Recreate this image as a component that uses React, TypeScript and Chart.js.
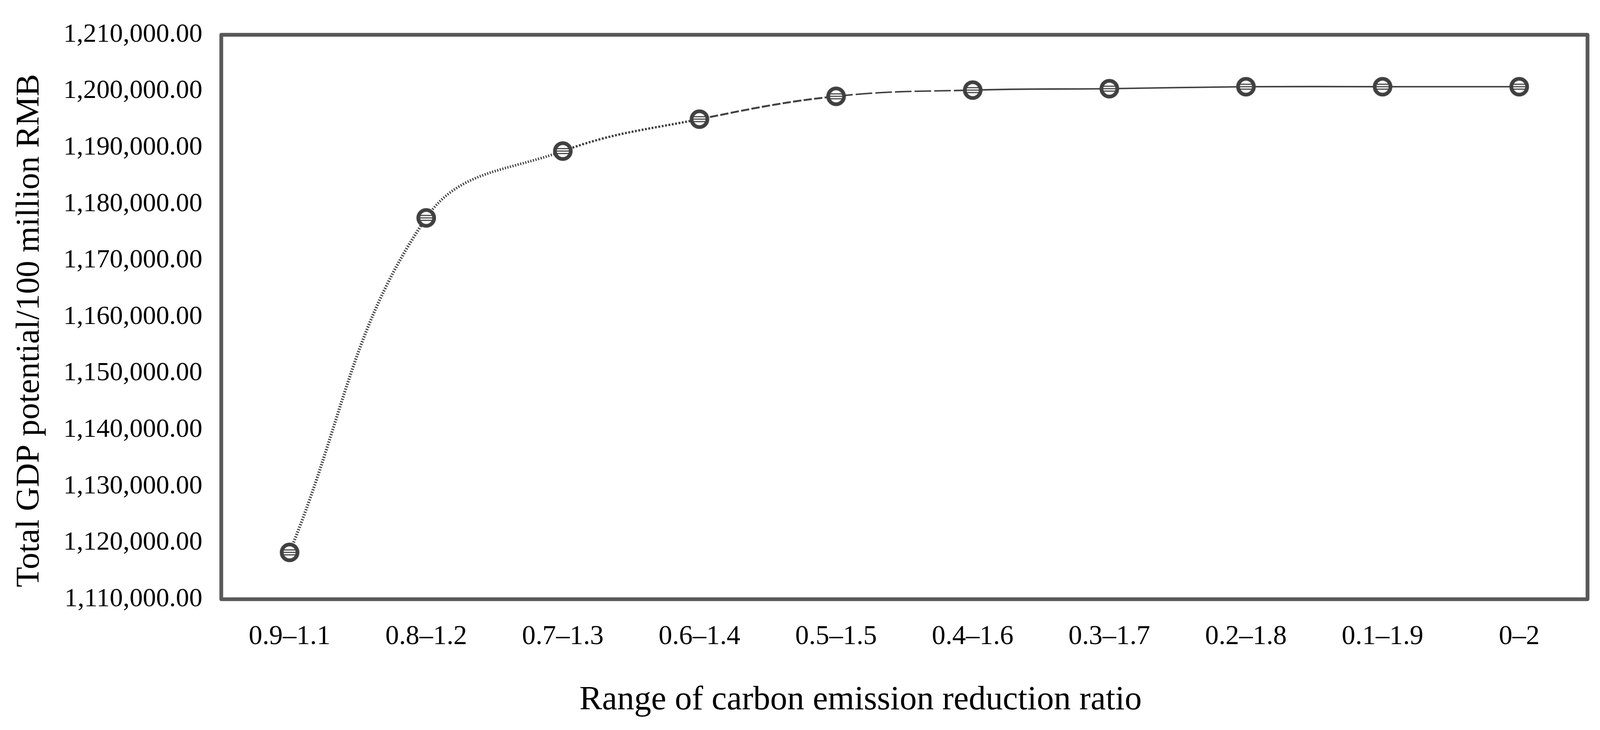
import React, { useEffect, useRef } from "react";
import { Chart, registerables } from "chart.js";

Chart.register(...registerables);

// ---- data ----
const categories = [
  "0.9–1.1",
  "0.8–1.2",
  "0.7–1.3",
  "0.6–1.4",
  "0.5–1.5",
  "0.4–1.6",
  "0.3–1.7",
  "0.2–1.8",
  "0.1–1.9",
  "0–2",
];
const gdpPotential = [
  1118300, 1177560, 1189400, 1195050, 1199100, 1200200, 1200450, 1200800, 1200800, 1200800,
];
const yMin = 1110000;
const yMax = 1210000;
const yStep = 10000;
const xTitle = "Range of carbon emission reduction ratio";
const yTitle = "Total GDP potential/100 million RMB";

// ---- styles ----
const LINE_COLOR = "#404040";
const BOX_COLOR = "#595959";
const FONT = "'Liberation Serif', 'Times New Roman', serif";
const segmentDash: number[][] = [[3, 4], [3, 4], [5, 4], [22, 6], [44, 8], [], [], [], []];
const segmentWidth: number[] = [8, 7, 6, 5, 4, 4, 4, 4, 4];

function makeMarker(s: number): HTMLCanvasElement {
  const size = Math.round(58 * s);
  const c = document.createElement("canvas");
  c.width = size;
  c.height = size;
  const g = c.getContext("2d")!;
  g.scale(size / 58, size / 58);
  const cx = 29, cy = 29;
  g.fillStyle = "#ffffff";
  g.beginPath();
  g.arc(cx, cy, 21, 0, Math.PI * 2);
  g.fill();
  g.save();
  g.beginPath();
  g.arc(cx, cy, 17, 0, Math.PI * 2);
  g.clip();
  g.fillStyle = LINE_COLOR;
  for (const dy of [-8, -1.5, 5]) {
    g.fillRect(cx - 20, cy + dy, 40, 3);
  }
  g.restore();
  g.strokeStyle = LINE_COLOR;
  g.lineWidth = 10;
  g.beginPath();
  g.arc(cx, cy, 21, 0, Math.PI * 2);
  g.stroke();
  return c;
}

export default function App() {
  const canvasRef = useRef<HTMLCanvasElement | null>(null);
  const W = typeof window !== "undefined" && window.innerWidth ? window.innerWidth : 4230;
  const H = typeof window !== "undefined" && window.innerHeight ? window.innerHeight : 1870;

  useEffect(() => {
    if (!canvasRef.current) return;
    const sx = W / 4230;
    const sy = H / 1870;
    const s = Math.min(sx, sy);
    const marker = makeMarker(s);

    const boxPlugin = {
      id: "boxPlugin",
      beforeDatasetsDraw(chart: any) {
        const { ctx, chartArea } = chart;
        ctx.save();
        ctx.strokeStyle = BOX_COLOR;
        ctx.lineWidth = 10 * s;
        ctx.lineJoin = "round";
        ctx.strokeRect(chartArea.left, chartArea.top, chartArea.right - chartArea.left, chartArea.bottom - chartArea.top);
        ctx.restore();
      },
    };

    const titlePlugin = {
      id: "titlePlugin",
      afterDraw(chart: any) {
        const { ctx } = chart;
        ctx.save();
        ctx.fillStyle = "#000000";
        ctx.font = `${90 * s}px ${FONT}`;
        ctx.textAlign = "center";
        ctx.textBaseline = "alphabetic";
        ctx.fillText(xTitle, 2275 * sx, 1817 * sy);
        ctx.translate(102 * sx, 847 * sy);
        ctx.rotate(-Math.PI / 2);
        ctx.font = `${88 * s}px ${FONT}`;
        ctx.fillText(yTitle, 0, 0);
        ctx.restore();
      },
    };

    const chart = new Chart(canvasRef.current, {
      type: "line",
      data: {
        labels: categories,
        datasets: [
          {
            data: gdpPotential,
            borderColor: LINE_COLOR,
            borderWidth: 4 * s,
            tension: 0.4,
            fill: false,
            pointStyle: marker as any,
            pointRadius: 26 * s,
            segment: {
              borderDash: (ctx: any) => (segmentDash[ctx.p0DataIndex] || []).map((d) => d * s),
              borderWidth: (ctx: any) => (segmentWidth[ctx.p0DataIndex] || 4) * s,
            },
          },
        ],
      },
      options: {
        animation: false,
        responsive: false,
        devicePixelRatio: 1,
        layout: { padding: { left: 0, top: 70 * sy, right: W - 4197 * sx, bottom: 0 } },
        plugins: { legend: { display: false }, tooltip: { enabled: false } },
        scales: {
          x: {
            offset: true,
            grid: { display: false, drawTicks: false },
            border: { display: false },
            ticks: {
              color: "#000000",
              font: { family: FONT, size: 72 * s },
              padding: 55 * sy,
              maxRotation: 0,
              autoSkip: false,
            },
            afterFit: (scale: any) => {
              scale.height = H - 1535 * sy;
            },
          },
          y: {
            min: yMin,
            max: yMax,
            grid: { display: false, drawTicks: false },
            border: { display: false },
            ticks: {
              stepSize: yStep,
              color: "#000000",
              font: { family: FONT, size: 70 * s },
              padding: 50 * sx,
              callback: (v: any) =>
                Number(v).toLocaleString("en-US", { minimumFractionDigits: 2, maximumFractionDigits: 2 }),
            },
            afterFit: (scale: any) => {
              scale.width = 585 * sx;
            },
          },
        },
      },
      plugins: [boxPlugin, titlePlugin],
    });
    return () => chart.destroy();
  }, []);

  return (
    <div style={{ position: "fixed", left: 0, top: 0, width: W, height: H, background: "#fff", overflow: "hidden" }}>
      <canvas ref={canvasRef} width={W} height={H} style={{ width: W, height: H, display: "block" }} />
    </div>
  );
}
